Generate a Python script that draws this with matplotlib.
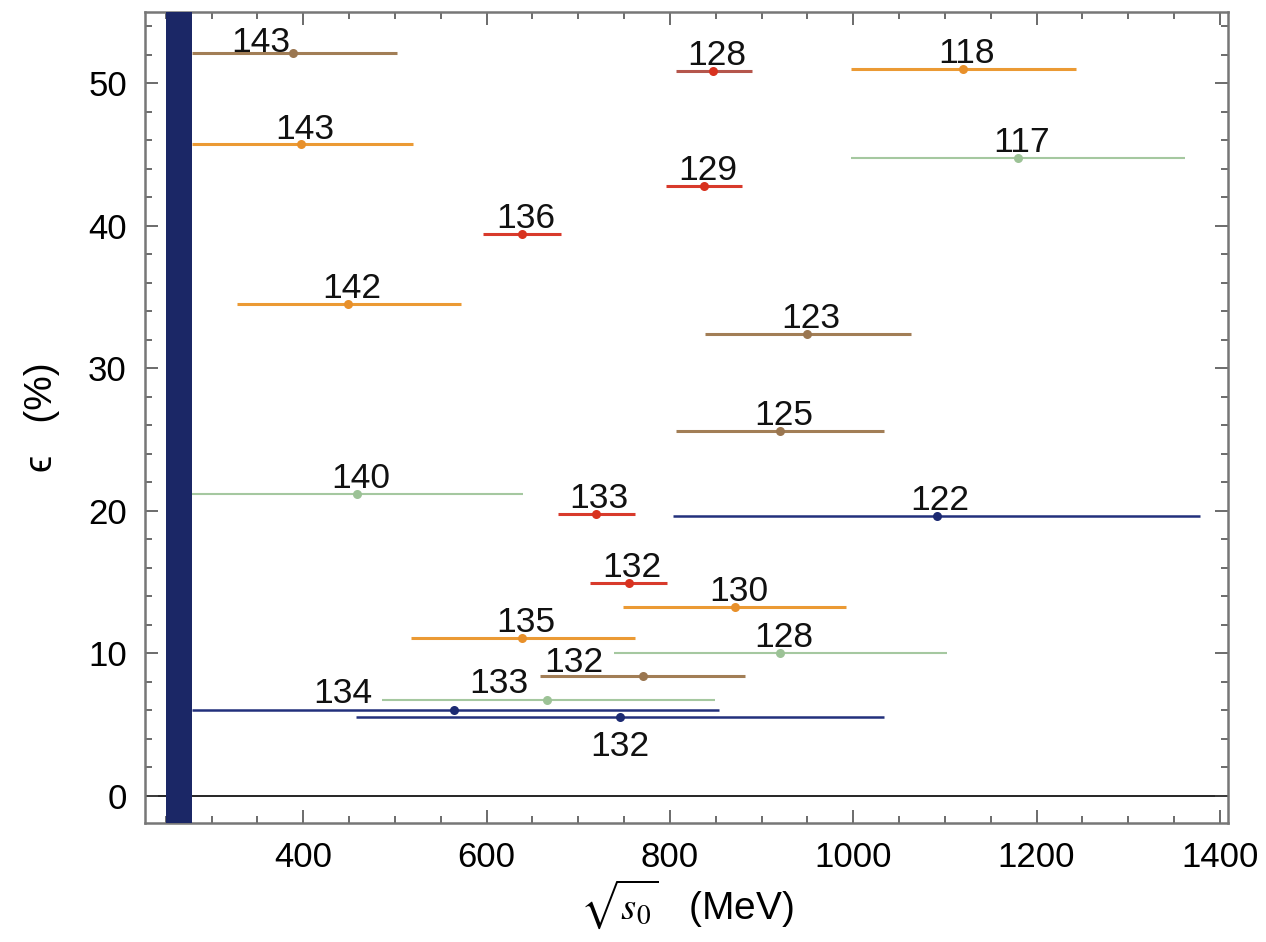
import matplotlib
matplotlib.use("Agg")
import matplotlib.pyplot as plt
from matplotlib.ticker import MultipleLocator

plt.rcParams['font.family'] = ['Liberation Sans', 'DejaVu Sans']
plt.rcParams['mathtext.fontset'] = 'stix'

# each fit: label, sqrt(s0) lower, upper, central value, epsilon (%)
brown_lab = [143, 123, 125, 132]
brown_lo = [279, 838, 807, 658]
brown_hi = [502, 1063, 1033, 882]
brown_c = [389, 950, 920, 771]
brown_eps = [52.1, 32.4, 25.6, 8.4]

orange_lab = [143, 142, 135, 130, 118]
orange_lo = [279, 328, 518, 749, 998]
orange_hi = [520, 572, 762, 992, 1243]
orange_c = [398, 449, 639, 871, 1120]
orange_eps = [45.7, 34.5, 11.05, 13.26, 51.0]

red_lab = [136, 133, 132, 128, 129]
red_lo = [596, 678, 713, 807, 796]
red_hi = [681, 762, 797, 890, 879]
red_c = [639, 719, 755, 847, 837]
red_eps = [39.4, 19.77, 14.9, 50.85, 42.8]

green_lab = [140, 133, 128, 117]
green_lo = [279, 486, 739, 998]
green_hi = [640, 849, 1102, 1362]
green_c = [459, 666, 920, 1180]
green_eps = [21.2, 6.72, 10.04, 44.77]

blue_lab = [134, 132, 122]
blue_lo = [279, 458, 803]
blue_hi = [853, 1033, 1378]
blue_c = [564, 745, 1091]
blue_eps = [6.01, 5.54, 19.63]

band_lo, band_hi = 250, 279

groups = [
    (brown_lab, brown_lo, brown_hi, brown_c, brown_eps, '#a27e56', '#9a7650', 2.2),
    (orange_lab, orange_lo, orange_hi, orange_c, orange_eps, '#eb9a34', '#e8902a', 2.2),
    (red_lab, red_lo, red_hi, red_c, red_eps, '#d83a2c', '#d8321f', 2.2),
    (green_lab, green_lo, green_hi, green_c, green_eps, '#a5c8a0', '#9cc296', 1.5),
    (blue_lab, blue_lo, blue_hi, blue_c, blue_eps, '#22307c', '#1c2a72', 1.8),
]

# label offsets in points (dx, dy) where the default placement is not used
special_offsets = {
    ('#a27e56', 0): (-23, 1),
    ('#a27e56', 3): (-50, 3),
    ('#a5c8a0', 1): (-35, 5),
    ('#22307c', 0): (-80, 5),
    ('#22307c', 1): (0, -28),
}

fig = plt.figure(figsize=(12.66, 9.42), dpi=100)
ax = fig.add_axes([0.1145, 0.126, 0.9702 - 0.1145, 0.9876 - 0.126])

ax.axvspan(band_lo, band_hi, color='#1b2766', zorder=4, lw=0)
ax.axhline(0, color='black', lw=1.2, zorder=1)

for lab, lo, hi, c, eps, lcol, dcol, lw in groups:
    for i in range(len(lab)):
        col = lcol
        if lcol == '#d83a2c' and lab[i] == 128:
            col = '#b5564c'
        ax.hlines(eps[i], lo[i], hi[i], colors=col, lw=lw, zorder=2)
        ax.plot(c[i], eps[i], 'o', color=dcol, ms=6.5, mec='none', zorder=3)
        dx, dy = special_offsets.get((lcol, i), (2.5, 4.3))
        ax.annotate(str(lab[i]), (c[i], eps[i]), xytext=(dx, dy),
                    textcoords='offset points', ha='center', va='baseline',
                    fontsize=25.5, color='#111111', zorder=5)

ax.set_xlim(227.3, 1409.1)
ax.set_ylim(-1.94, 55.02)

ax.xaxis.set_major_locator(MultipleLocator(200))
ax.xaxis.set_minor_locator(MultipleLocator(50))
ax.yaxis.set_major_locator(MultipleLocator(10))
ax.yaxis.set_minor_locator(MultipleLocator(2))
ax.tick_params(which='both', direction='in', top=True, right=True,
               color='#444444', width=1.1)
ax.tick_params(which='major', length=9.5, labelsize=25, pad=13)
ax.tick_params(which='minor', length=5)
for s in ax.spines.values():
    s.set_color('#777777')
    s.set_linewidth(1.8)

ax.set_xlabel(r'$\sqrt{s_0}$   (MeV)', fontsize=28, labelpad=2)
ax.set_ylabel('\u03f5   (%)', fontsize=28, labelpad=20)

fig.savefig('out.png', dpi=100)
